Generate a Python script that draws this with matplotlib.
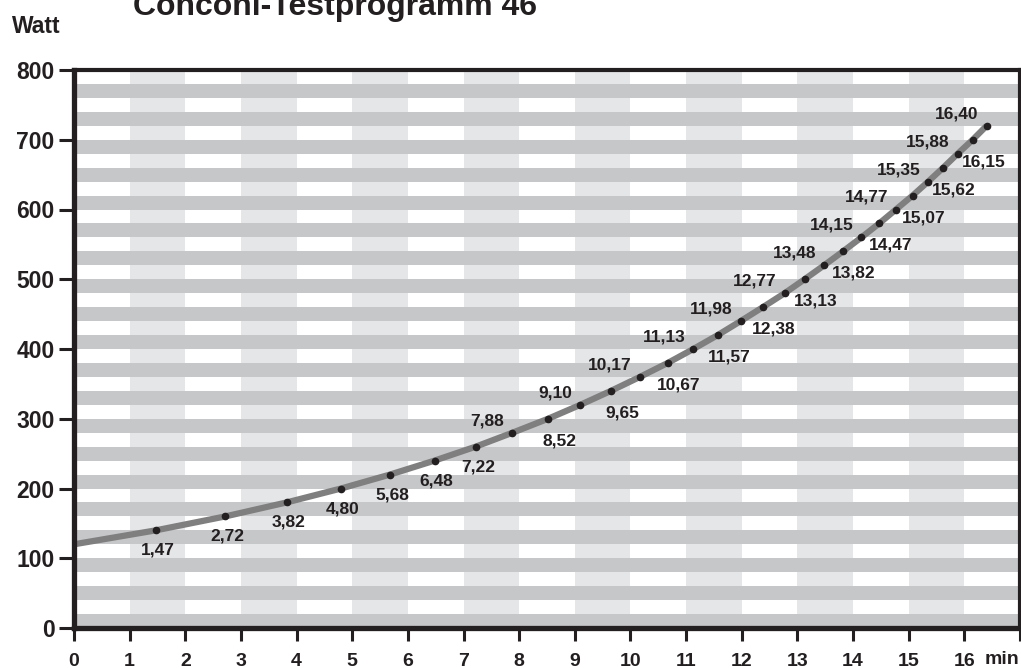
import matplotlib
matplotlib.use("Agg")
import matplotlib.pyplot as plt

plt.rcParams['font.family'] = ['Liberation Sans', 'DejaVu Sans']
plt.rcParams['font.weight'] = 'bold'

# Conconi test: minute at which each power step is reached
watt = [140, 160, 180, 200, 220, 240, 260, 280, 300, 320, 340, 360, 380, 400, 420,
        440, 460, 480, 500, 520, 540, 560, 580, 600, 620, 640, 660, 680, 700, 720]
minutes = [1.47, 2.72, 3.82, 4.80, 5.68, 6.48, 7.22, 7.88, 8.52, 9.10, 9.65, 10.17,
           10.67, 11.13, 11.57, 11.98, 12.38, 12.77, 13.13, 13.48, 13.82, 14.15,
           14.47, 14.77, 15.07, 15.35, 15.62, 15.88, 16.15, 16.40]
start_watt = 120
x_ticks = list(range(0, 18))
x_labels = [str(i) for i in range(0, 17)] + ['']
y_ticks = [0, 100, 200, 300, 400, 500, 600, 700, 800]

dark = '#231f20'
stripe = '#c6c7c9'
column = '#e5e6e8'

fig = plt.figure(figsize=(10.21, 6.68), dpi=100)
ax = fig.add_axes([74 / 1021, 40 / 668, 946 / 1021, 558 / 668])
ax.set_xlim(0, 17)
ax.set_ylim(0, 800)

# background: light columns, then gray horizontal bands every 20 W
for c in range(1, 17, 2):
    ax.axvspan(c, c + 1, color=column, lw=0, zorder=0)
for b in range(0, 800, 40):
    ax.axhspan(b, b + 20, color=stripe, lw=0, zorder=1)

xs = [0] + minutes
ys = [start_watt] + watt
ax.plot(xs, ys, color='#7f7f7f', lw=4.5, solid_capstyle='butt', zorder=3)
ax.plot(minutes, watt, 'o', color=dark, ms=4.5, zorder=4)

for i, (m, w) in enumerate(zip(minutes, watt)):
    lab = f"{m:.2f}".replace('.', ',')
    if i < 7:
        ax.annotate(lab, (m, w), xytext=(2, -20), textcoords='offset pixels',
                    ha='center', va='center', fontsize=12.5, color=dark, zorder=5)
    elif i % 2 == 0:
        ax.annotate(lab, (m, w), xytext=(11, -22), textcoords='offset pixels',
                    ha='center', va='center', fontsize=12.5, color=dark, zorder=5)
    else:
        ax.annotate(lab, (m, w), xytext=(-8, 12), textcoords='offset pixels',
                    ha='right', va='center', fontsize=12.5, color=dark, zorder=5)

for name, s in ax.spines.items():
    s.set_color(dark)
    s.set_linewidth(3.8 if name in ('left', 'bottom') else 3)
    s.set_zorder(6)

ax.set_xticks(x_ticks)
ax.set_xticklabels(x_labels)
ax.set_yticks(y_ticks)
ax.tick_params(axis='both', direction='out', width=2.2, color=dark,
               labelcolor=dark)
ax.tick_params(axis='x', labelsize=14, pad=9, length=9)
ax.tick_params(axis='y', labelsize=16.5, pad=3, length=11)

fig.text(1002 / 1021, 1 - 660 / 668, 'min', ha='center', va='center',
         fontsize=14, color=dark, fontweight='bold')
fig.text(12 / 1021, 1 - 33 / 668, 'Watt', ha='left', va='baseline',
         fontsize=16.5, color=dark, fontweight='bold')
fig.text(133 / 1021, 1 - 15 / 668, 'Conconi-Testprogramm 46', ha='left',
         va='baseline', fontsize=23, color=dark, fontweight='bold')

fig.savefig('out.png', dpi=100)
